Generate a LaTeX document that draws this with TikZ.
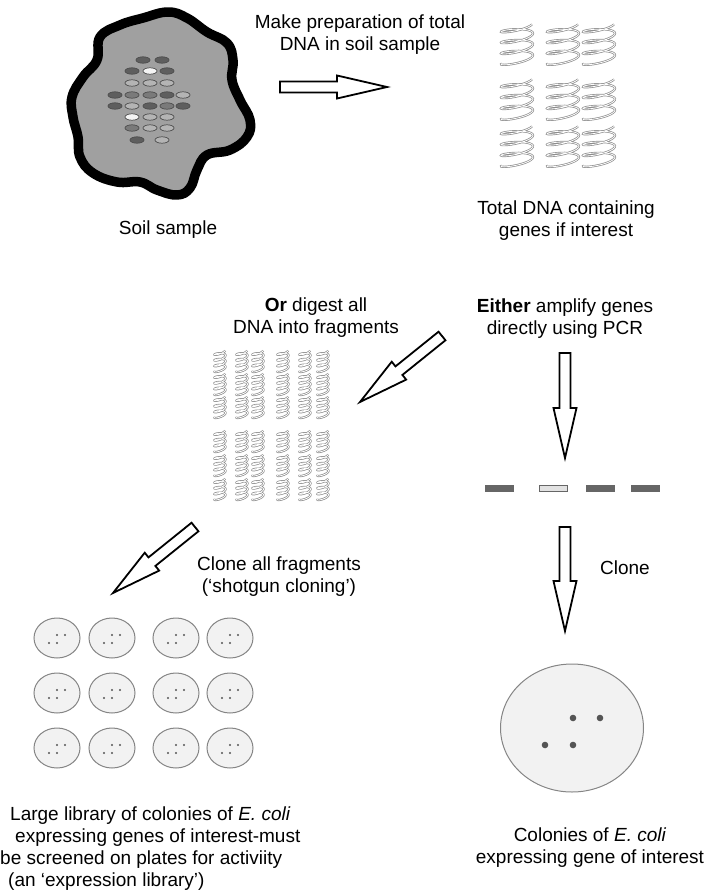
\documentclass[tikz,border=0pt]{standalone}
\usepackage{fontspec}
\setmainfont{Liberation Sans}
\usetikzlibrary{calc, positioning}

\definecolor{soilgrey}{HTML}{A0A0A0}
\definecolor{spotdark}{HTML}{5E5E5E}
\definecolor{spotmid}{HTML}{7A7A7A}
\definecolor{spotlight}{HTML}{B4B4B4}
\definecolor{spotwhite}{HTML}{F4F4F4}
\definecolor{coilgrey}{HTML}{8C8C8C}
\definecolor{platefill}{HTML}{F2F2F2}
\definecolor{plateline}{HTML}{858585}
\definecolor{dotgrey}{HTML}{555555}
\definecolor{bardark}{HTML}{666666}
\definecolor{barlight}{HTML}{E2E2E2}

% hollow block arrow between two named points
\newcommand{\hollowarrow}[2]{%
  \path ($(#2)!50pt!(#1)$) coordinate (hb);
  \draw[blockarrow] ($(#1)!5.5pt!90:(#2)$) -- ($(hb)!5.5pt!90:(#2)$)
    -- ($(hb)!11.5pt!90:(#2)$) -- (#2) -- ($(hb)!11.5pt!-90:(#2)$)
    -- ($(hb)!5.5pt!-90:(#2)$) -- ($(#1)!5.5pt!-90:(#2)$) -- cycle;
}

\begin{document}
\begin{tikzpicture}[x=1pt, y=-1pt,
    txt/.style = {inner sep=0pt, align=center, font=\fontsize{19}{22}\selectfont},
    blockarrow/.style = {draw, fill=white, line width=1.8pt, line join=miter},
    spot/.style = {draw=black!70, line width=0.7pt},
    plate/.style = {draw=plateline, fill=platefill, line width=1pt},
    bar/.style = {draw=black!60, line width=0.6pt},
    coil/.pic = {
      \draw[coilgrey, line width=0.7pt, double=white, double distance=0.8pt]
        plot[domain=20:1280, samples=90, smooth, variable=\t]
        ({0.5*cos(\t)}, {-0.5+(\t-20)/1260+0.09*sin(\t)-0.05*cos(\t)});
    }]

  \useasboundingbox (0,0) rectangle (711,892);

  % Soil sample
  \draw[line width=9.5pt, fill=soilgrey, line join=round]
    plot[smooth cycle, tension=0.7] coordinates {
      (168,12) (187,18) (207,32) (227,43) (233,60) (232,80) (240,100)
      (250,120) (247,137) (230,150) (207,155) (197,170) (190,188)
      (177,195) (157,190) (140,182) (117,182) (93,173) (80,157)
      (78,137) (73,117) (72,97) (83,77) (97,60) (100,37) (120,25) (143,18)};
  \foreach \x/\y/\c in {
      143/60/spotdark, 162/60/spotdark,
      132/71/spotdark, 150/71/spotwhite, 167/71/spotdark,
      132/83/spotlight, 150/83/spotlight, 167/83/spotlight,
      115/95/spotdark, 132/95/spotmid, 150/95/spotmid, 167/95/spotdark, 183/95/spotlight,
      115/106/spotdark, 132/106/spotlight, 150/106/spotdark, 167/106/spotmid, 183/106/spotdark,
      132/117/spotwhite, 150/117/spotlight, 167/117/spotlight,
      132/128/spotmid, 150/128/spotlight, 167/128/spotlight,
      137/140/spotdark, 162/140/spotlight}
    \draw[spot, fill=\c] (\x,\y) ellipse [x radius=7, y radius=3.2];
  \node[txt] (soil) at (168,230) {Soil sample};

  % Total DNA
  \node[txt] (prep) at (360,35) {Make preparation of total\\DNA in soil sample};
  \coordinate (prepA) at (280,87);
  \coordinate (prepB) at (387,87);
  \hollowarrow{prepA}{prepB}
  \foreach \hx in {517,563,599}
    \foreach \hy in {44,99,146}
      \pic[xscale=32, yscale=38] at (\hx,\hy) {coil};
  \node[txt] (total) at (566,221) {Total DNA containing\\genes if interest};

  % Fragments
  \node[txt] (digest) at (316,318) {\textbf{Or} digest all\\DNA into fragments};
  \node[txt] (pcr) at (565,319) {\textbf{Either} amplify genes\\directly using PCR};
  \coordinate (digA) at (442,336);
  \coordinate (digB) at (360,402);
  \hollowarrow{digA}{digB}
  \foreach \fx in {220,242,258,283,305,323}
    \foreach \fy in {361,384,407,441,465,489}
      \pic[xscale=11, yscale=20] at (\fx,\fy) {coil};

  % PCR products
  \coordinate (pcrA) at (565,353);
  \coordinate (pcrB) at (565,458);
  \hollowarrow{pcrA}{pcrB}
  \foreach \bx/\c in {499/bardark, 553/barlight, 600/bardark, 645/bardark}
    \draw[bar, fill=\c] (\bx-14,485) rectangle (\bx+14,491);

  % Cloning
  \node[txt] (shotgun) at (279,577) {Clone all fragments\\(`shotgun cloning')};
  \coordinate (shotA) at (195,527);
  \coordinate (shotB) at (113,593);
  \hollowarrow{shotA}{shotB}
  \node[txt] (clone) at (625,568) {Clone};
  \coordinate (cloneA) at (565,527);
  \coordinate (cloneB) at (565,631);
  \hollowarrow{cloneA}{cloneB}

  % Library plates
  \foreach \px in {57,112,176,230}
    \foreach \py in {638,693,748} {
      \draw[plate] (\px,\py) ellipse [x radius=23, y radius=20];
      \foreach \dx/\dy in {0/-3, 8/-3, -8/5, 0/5}
        \fill[dotgrey] (\px+\dx,\py+\dy) circle [radius=1.2];
    }
  \node[txt, align=left, anchor=west] (library) at (0,849)
    {\hspace*{10pt}Large library of colonies of \textit{E. coli}\\
     \hspace*{15pt}expressing genes of interest-must\\
     be screened on plates for activiity\\
     \hspace*{8pt}(an `expression library')};

  % Single plate
  \draw[plate] (572,728) ellipse [x radius=71.5, y radius=64];
  \foreach \dx/\dy in {573/718, 600/718, 545/745, 573/745}
    \fill[dotgrey] (\dx,\dy) circle [radius=3.3];
  \node[txt] (colonies) at (590,848) {Colonies of \textit{E. coli}\\expressing gene of interest};

\end{tikzpicture}
\end{document}
